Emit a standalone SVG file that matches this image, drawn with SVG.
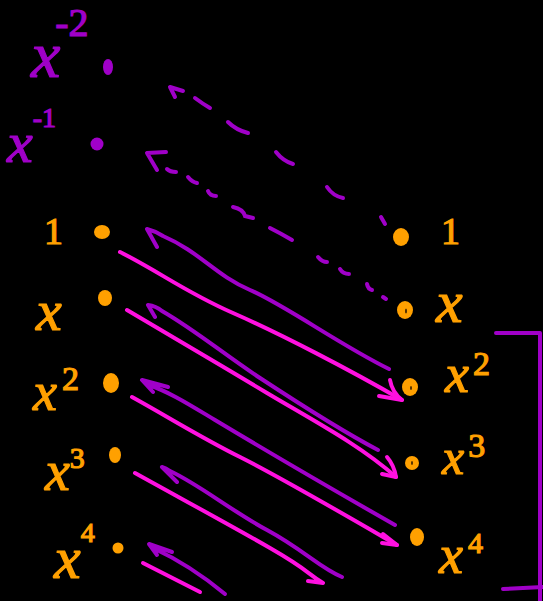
<svg xmlns="http://www.w3.org/2000/svg" width="543" height="601" viewBox="0 0 543 601">
  <style>
    .bg { fill: #000; }
    .o { fill: #ffa000; }
    .p { fill: #a000c8; }
    .lbl { font-family: "Liberation Serif", "DejaVu Serif", serif; font-style: italic; stroke-width: 1.2; }
    .num { font-family: "Liberation Serif", "DejaVu Serif", serif; font-style: normal; }
    .lo { fill: #ffa000; stroke: #ffa000; stroke-width: 1.2; }
    .lp { fill: #a000c8; stroke: #a000c8; stroke-width: 1.2; }
    .sp { fill: none; stroke: #a000c8; stroke-width: 4; stroke-linecap: round; stroke-linejoin: round; }
    .sm { fill: none; stroke: #ff10e0; stroke-width: 4; stroke-linecap: round; stroke-linejoin: round; }
    .dash { fill: none; stroke: #a000c8; stroke-width: 4; stroke-linecap: round; }
    .hole { fill: #4a2a00; }
  </style>
  <rect class="bg" x="0" y="0" width="543" height="601"/>

  <!-- left column: negative powers -->
  <g id="left-xm2">
    <ellipse class="p" cx="108" cy="67" rx="5" ry="8"/>
    <text class="lbl lp" x="31" y="77" font-size="66">x<tspan class="num" dx="-5" dy="-41" font-size="40">-2</tspan></text>
  </g>
  <g id="left-xm1">
    <circle class="p" cx="97" cy="144" r="6.5"/>
    <text class="lbl lp" x="7" y="162" font-size="58">x<tspan class="num" dx="0" dy="-35" font-size="28">-1</tspan></text>
  </g>

  <!-- left column: non-negative powers -->
  <g id="left-1">
    <ellipse class="o" cx="102" cy="232" rx="8" ry="7"/>
    <text class="num lo" x="44" y="244" font-size="38">1</text>
  </g>
  <g id="left-x">
    <ellipse class="o" cx="105" cy="298" rx="7" ry="8"/>
    <text class="lbl lo" x="36" y="330" font-size="58">x</text>
  </g>
  <g id="left-x2">
    <ellipse class="o" cx="111" cy="383" rx="8" ry="10"/>
    <text class="lbl lo" x="33" y="410" font-size="54">x<tspan class="num" dx="5" dy="-20" font-size="34">2</tspan></text>
  </g>
  <g id="left-x3">
    <ellipse class="o" cx="115" cy="455" rx="6" ry="8"/>
    <text class="lbl lo" x="45" y="490" font-size="56">x<tspan class="num" dx="0" dy="-22" font-size="30">3</tspan></text>
  </g>
  <g id="left-x4">
    <circle class="o" cx="118" cy="548" r="5.5"/>
    <text class="lbl lo" x="54" y="578" font-size="60">x<tspan class="num" dx="0" dy="-36" font-size="28">4</tspan></text>
  </g>

  <!-- right column -->
  <g id="right-1">
    <ellipse class="o" cx="401" cy="237" rx="8" ry="9"/>
    <text class="num lo" x="441" y="244" font-size="38">1</text>
  </g>
  <g id="right-x">
    <ellipse class="o" cx="405" cy="310" rx="8" ry="9"/>
    <ellipse class="hole" cx="406" cy="311" rx="1" ry="2.5"/>
    <text class="lbl lo" x="436" y="322" font-size="60">x</text>
  </g>
  <g id="right-x2">
    <ellipse class="o" cx="410" cy="387" rx="8" ry="9"/>
    <ellipse class="hole" cx="411" cy="388" rx="1" ry="2"/>
    <text class="lbl lo" x="445" y="392" font-size="54">x<tspan class="num" dx="4" dy="-17" font-size="34">2</tspan></text>
  </g>
  <g id="right-x3">
    <circle class="o" cx="412" cy="463" r="7"/>
    <ellipse class="hole" cx="412" cy="463" rx="1" ry="2"/>
    <text class="lbl lo" x="442" y="474" font-size="50">x<tspan class="num" dx="4" dy="-17" font-size="34">3</tspan></text>
  </g>
  <g id="right-x4">
    <ellipse class="o" cx="417" cy="537" rx="7" ry="9"/>
    <text class="lbl lo" x="439" y="573" font-size="54">x<tspan class="num" dx="5" dy="-20" font-size="30">4</tspan></text>
  </g>

  <!-- bracket on the right -->
  <g id="bracket">
    <path class="sp" d="M496 333 L540 333 L540 601" stroke-width="5"/>
    <path class="sp" d="M503 589 L543 587" stroke-width="5"/>
  </g>

  <g id="connectors">
    <!-- dashed purple arrows (upper) -->
    <path class="sp" d="M175 97 L170 87 L183 91"/>
    <path class="dash" d="M195 98 Q203 104 210 108"/>
    <path class="dash" d="M228 122 Q236 130 248 133"/>
    <path class="dash" d="M276 152 Q283 161 293 164"/>
    <path class="dash" d="M327 187 Q333 196 343 198"/>
    <path class="dash" d="M381 217 L385 224"/>

    <path class="sp" d="M157 170 L147 153 L166 152"/>
    <path class="dash" d="M167 169 Q170 172 176 172"/>
    <path class="dash" d="M188 177 Q192 182 197 183"/>
    <path class="dash" d="M208 191 Q210 196 216 196"/>
    <path class="dash" d="M233 207 Q243 209 245 216 L253 218"/>
    <path class="dash" d="M270 228 Q280 233 292 240"/>
    <path class="dash" d="M318 257 Q322 262 327 262"/>
    <path class="dash" d="M340 269 Q343 274 349 274"/>
    <path class="dash" d="M367 284 Q368 289 372 290"/>
    <path class="dash" d="M383 297 L386 299"/>

    <!-- solid purple arrows pointing back up-left -->
    <path class="sp" d="M157 247 L147 229 Q155 231 163 236 C 200 252, 215 275, 250 290 S 340 345, 389 369"/>
    <path class="sp" d="M155 317 L148 305 Q156 306 162 311 C 195 330, 225 355, 260 378 S 340 430, 378 450"/>
    <path class="sp" d="M153 392 L142 380 L168 387 M146 384 C 170 392, 190 405, 215 420 S 330 488, 395 525"/>
    <path class="sp" d="M177 482 L162 467 Q166 468 170 471 C 200 485, 230 510, 267 530 S 320 568, 342 577"/>
    <path class="sp" d="M157 555 L149 544 L172 552 M153 548 Q 190 565, 225 594"/>

    <!-- solid magenta arrows pointing down-right -->
    <path class="sm" d="M120 252 C 160 272, 185 292, 233 313 S 350 370, 402 400"/>
    <path class="sm" d="M390 380 Q392 392 402 400 L379 396"/>
    <path class="sm" d="M127 310 C 170 335, 220 365, 267 393 S 360 445, 396 477"/>
    <path class="sm" d="M387 457 Q394 465 396 477 L382 474"/>
    <path class="sm" d="M132 397 C 170 418, 200 437, 240 457 S 340 512, 397 545"/>
    <path class="sm" d="M383 534 L397 545 L382 543"/>
    <path class="sm" d="M135 473 C 180 498, 230 525, 270 548 S 305 572, 323 583 L308 581"/>
    <path class="sm" d="M143 563 L200 592"/>
  </g>
</svg>
